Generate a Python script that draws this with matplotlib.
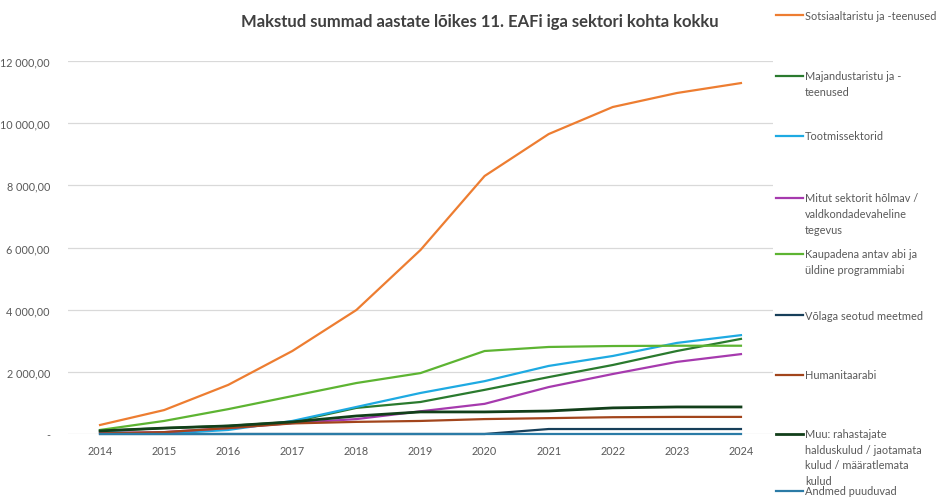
import matplotlib
matplotlib.use("Agg")
import matplotlib.pyplot as plt
from matplotlib.lines import Line2D

years = ["2014", "2015", "2016", "2017", "2018", "2019", "2020", "2021", "2022", "2023", "2024"]

sotsiaal = [290, 770, 1580, 2670, 3990, 5920, 8300, 9650, 10520, 10970, 11290]
majandus = [100, 190, 260, 390, 840, 1030, 1420, 1830, 2220, 2670, 3060]
tootmis = [60, 10, 130, 420, 870, 1320, 1700, 2190, 2510, 2930, 3180]
mitut = [30, 60, 190, 350, 480, 730, 970, 1510, 1930, 2320, 2570]
kaupadena = [130, 420, 800, 1220, 1640, 1960, 2670, 2800, 2830, 2840, 2840]
volaga = [0, 0, 0, 0, 0, 0, 0, 160, 160, 160, 160]
humanitaar = [20, 60, 190, 340, 390, 420, 480, 510, 540, 550, 550]
muu = [100, 190, 260, 390, 580, 710, 710, 740, 840, 870, 870]
andmed = [0, 0, 0, 0, 0, 0, 0, 0, 0, 0, 0]

labels = [
    "Sotsiaaltaristu ja -teenused",
    "Majandustaristu ja -\nteenused",
    "Tootmissektorid",
    "Mitut sektorit hõlmav /\nvaldkondadevaheline\ntegevus",
    "Kaupadena antav abi ja\nüldine programmiabi",
    "Võlaga seotud meetmed",
    "Humanitaarabi",
    "Muu: rahastajate\nhalduskulud / jaotamata\nkulud / määratlemata\nkulud",
    "Andmed puuduvad",
]
series = [sotsiaal, majandus, tootmis, mitut, kaupadena, volaga, humanitaar, muu, andmed]
colors = ["#ED7D31", "#2A7A2E", "#1EAAE2", "#A63AAE", "#5DB432", "#173F5A", "#A2451C", "#123F1A", "#2B7BA6"]
widths = [1.6, 1.6, 1.6, 1.6, 1.6, 1.6, 1.6, 2.0, 1.6]

FONT = ["Lato", "DejaVu Sans"]
plt.rcParams["font.family"] = FONT

W, H = 950, 502
fig = plt.figure(figsize=(W / 100, H / 100), dpi=100)
ax = fig.add_axes([68 / W, (H - 435) / H, (773 - 68) / W, (435 - 62) / H])

x = list(range(len(years)))
draw_order = [8, 5, 6, 7, 3, 1, 2, 4, 0]
for i in draw_order:
    ax.plot(x, series[i], color=colors[i], lw=widths[i], clip_on=False, zorder=3 + i * 0.01,
            solid_joinstyle="round")

ax.set_xlim(-0.5, len(years) - 0.5)
ax.set_ylim(0, 12000)
yt = [0, 2000, 4000, 6000, 8000, 10000, 12000]
ax.set_yticks(yt)


def fmt(v):
    if v == 0:
        return "-"
    s = f"{int(v):,}".replace(",", "\u202f")
    return s + ",00"


ax.set_yticklabels([fmt(v) for v in yt])
ax.set_xticks(x)
ax.set_xticklabels(years)
ax.tick_params(axis="both", length=0, labelsize=7.8, labelcolor="#595959")
ax.tick_params(axis="y", pad=13)
ax.tick_params(axis="x", pad=8)
ax.grid(axis="y", color="#D9D9D9", lw=0.9)
ax.set_axisbelow(True)
for s in ax.spines.values():
    s.set_visible(False)

fig.text(480 / W, 1 - 22 / H, "Makstud summad aastate lõikes 11. EAFi iga sektori kohta kokku",
         ha="center", va="center", fontsize=12, fontweight="bold", color="#404040")

# legend
entry_y = [16, 77, 137, 199, 255, 316, 376, 435, 492]
line_gap = 15.5
for lab, c, yy, lw in zip(labels, colors, entry_y, widths):
    fig.add_artist(Line2D([776 / W, 803 / W], [1 - yy / H, 1 - yy / H], color=c, lw=lw,
                          transform=fig.transFigure))
    for k, part in enumerate(lab.split("\n")):
        fig.text(805 / W, 1 - (yy + k * line_gap) / H, part, ha="left", va="center",
                 fontsize=7.9, color="#595959")

fig.savefig("out.png", dpi=100)
